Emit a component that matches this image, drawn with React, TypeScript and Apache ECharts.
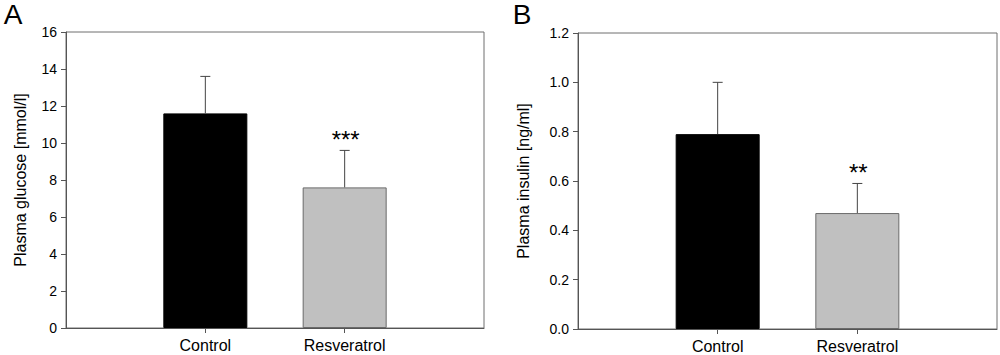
import { useEffect, useRef } from "react";
import * as echarts from "echarts";

const categories = ["", "Control", "Resveratrol", ""];
const groupIndex = [1, 2];
const glucoseMean = [11.6, 7.6];
const glucoseErr = [2.0, 2.0];
const glucoseSig = ["", "***"];
const insulinMean = [0.79, 0.47];
const insulinErr = [0.21, 0.12];
const insulinSig = ["", "**"];
const barColors = ["#000000", "#c0c0c0"];
const barBorders = ["#000000", "#6a6a6a"];

const FONT = 'Arial, "Liberation Sans", sans-serif';

function barData(means: number[]) {
  const arr: any[] = categories.map(() => null);
  groupIndex.forEach((ci, i) => {
    arr[ci] = {
      value: means[i],
      itemStyle: { color: barColors[i], borderColor: barBorders[i], borderWidth: 1 },
    };
  });
  return arr;
}

function errData(means: number[], errs: number[]) {
  return groupIndex.map((ci, i) => [ci, means[i], errs[i]]);
}

function errRender(sig: string[]) {
  return (params: any, api: any) => {
    const x = api.value(0);
    const m = api.value(1);
    const e = api.value(2);
    const base = api.coord([x, m]);
    const top = api.coord([x, m + e]);
    const style = { stroke: "#444", lineWidth: 1 };
    const children: any[] = [
      { type: "line", shape: { x1: base[0], y1: base[1], x2: top[0], y2: top[1] }, style },
      { type: "line", shape: { x1: top[0] - 5, y1: top[1], x2: top[0] + 5, y2: top[1] }, style },
    ];
    const s = sig[params.dataIndex];
    if (s) {
      children.push({
        type: "text",
        x: top[0] + 1,
        y: top[1] + 1,
        style: {
          text: s,
          fill: "#000",
          font: `24px ${FONT}`,
          align: "center",
          verticalAlign: "bottom",
        },
      });
    }
    return { type: "group", children };
  };
}

export default function App() {
  const ref = useRef<HTMLDivElement>(null);
  useEffect(() => {
    if (!ref.current) return;
    const chart = echarts.init(ref.current, null, { renderer: "svg" });
    const axisColor = "#555";
    const xAxis = (gi: number) => ({
      type: "category",
      gridIndex: gi,
      data: categories,
      boundaryGap: false,
      axisLine: { lineStyle: { color: axisColor, width: 1 } },
      axisTick: {
        show: true,
        length: 5,
        interval: (i: number) => i === 1 || i === 2,
        lineStyle: { color: axisColor },
      },
      axisLabel: { interval: 0, color: "#000", fontSize: 16, fontFamily: FONT, margin: 9 },
      splitLine: { show: false },
    });
    const yAxis = (gi: number, max: number, interval: number, name: string, digits: number, gap: number) => ({
      type: "value",
      gridIndex: gi,
      min: 0,
      max,
      interval,
      name,
      nameLocation: "middle",
      nameGap: gap,
      nameTextStyle: { color: "#000", fontSize: 16, fontFamily: FONT },
      axisLine: { show: true, lineStyle: { color: axisColor, width: 1 } },
      axisTick: { show: true, length: 5, lineStyle: { color: axisColor } },
      axisLabel: {
        color: "#000",
        fontSize: 14,
        fontFamily: FONT,
        margin: 9,
        formatter: (v: number) => v.toFixed(digits),
      },
      splitLine: { show: false },
    });
    chart.setOption({
      animation: false,
      backgroundColor: "#fff",
      textStyle: { fontFamily: FONT },
      grid: [
        { left: 66, top: 32, width: 418, height: 296, show: true, borderColor: "#6e6e6e", borderWidth: 1 },
        { left: 578, top: 33, width: 419, height: 296, show: true, borderColor: "#6e6e6e", borderWidth: 1 },
      ],
      xAxis: [xAxis(0), xAxis(1)],
      yAxis: [
        yAxis(0, 16, 2, "Plasma glucose [mmol/l]", 0, 38),
        yAxis(1, 1.2, 0.2, "Plasma insulin [ng/ml]", 1, 47),
      ],
      graphic: [
        { type: "text", x: 13, y: 0, style: { text: "A", font: `28px ${FONT}`, fill: "#000", align: "center", verticalAlign: "top" } },
        { type: "text", x: 522, y: 0, style: { text: "B", font: `28px ${FONT}`, fill: "#000", align: "center", verticalAlign: "top" } },
      ],
      series: [
        { type: "bar", xAxisIndex: 0, yAxisIndex: 0, barWidth: 84, data: barData(glucoseMean) },
        { type: "custom", xAxisIndex: 0, yAxisIndex: 0, renderItem: errRender(glucoseSig), data: errData(glucoseMean, glucoseErr), z: 5 },
        { type: "bar", xAxisIndex: 1, yAxisIndex: 1, barWidth: 84, data: barData(insulinMean) },
        { type: "custom", xAxisIndex: 1, yAxisIndex: 1, renderItem: errRender(insulinSig), data: errData(insulinMean, insulinErr), z: 5 },
      ],
    });
    return () => chart.dispose();
  }, []);
  return <div ref={ref} style={{ position: "fixed", left: 0, top: 0, width: 1000, height: 355 }} />;
}
